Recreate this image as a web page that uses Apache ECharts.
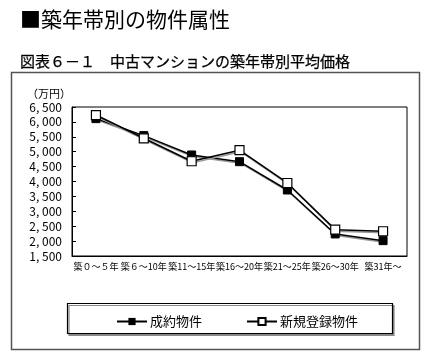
<!DOCTYPE html>
<html><head><meta charset="utf-8">
<script src="https://cdn.jsdelivr.net/npm/echarts@6/dist/echarts.min.js"></script>
<style>html,body{margin:0;padding:0;background:#fff}#c{width:435px;height:357px}</style>
</head><body><div id="c"></div>
<script>
var categories = ['築０～５年','築６～10年','築11～15年','築16～20年','築21～25年','築26～30年','築31年～'];
var contracted = [6110, 5540, 4890, 4665, 3715, 2240, 2015];
var newListings = [6230, 5450, 4680, 5050, 3950, 2385, 2330];
var seriesNames = ['成約物件', '新規登録物件'];
var yMin = 1500, yMax = 6500, yStep = 500;
var F = '"Noto Sans CJK JP", "Noto Sans", sans-serif';

var chart = echarts.init(document.getElementById('c'), null, {renderer: 'canvas'});
chart.setOption({
  backgroundColor: '#fff',
  animation: false,
  textStyle: {fontFamily: F},
  title: [
    {text: '■築年帯別の物件属性', left: 15, top: 4, textStyle: {fontFamily: F, fontSize: 21, fontWeight: 'normal', color: '#000'}},
    {text: '図表６－１　中古マンションの築年帯別平均価格', left: 15, top: 49, textStyle: {fontFamily: F, fontSize: 15, fontWeight: 'normal', color: '#000', textBorderColor: '#000', textBorderWidth: 0.25}}
  ],
  graphic: [
    {type: 'rect', z: -10, shape: {x: 11.5, y: 72.5, width: 408, height: 277}, style: {fill: '#fff', stroke: '#555', lineWidth: 1.5}},
    {type: 'rect', z: -5, shape: {x: 67.5, y: 303.5, width: 325, height: 30}, style: {fill: '#fff', stroke: '#000', lineWidth: 1.2, shadowColor: '#888', shadowOffsetX: 1.5, shadowOffsetY: 2, shadowBlur: 0}},
    {type: 'text', left: 27, top: 88, style: {text: '（万円）', fontFamily: F, fontSize: 11, fill: '#000'}}
  ],
  legend: {
    data: seriesNames,
    left: 111, top: 310,
    itemWidth: 30, itemHeight: 9, itemGap: 44,
    textStyle: {fontFamily: F, fontSize: 13, color: '#000', padding: [0, 0, 0, -2]}
  },
  grid: {left: 72, right: 28, top: 107, bottom: 101, show: true, borderColor: '#000', borderWidth: 1, backgroundColor: '#fff'},
  xAxis: {
    type: 'category', data: categories, boundaryGap: true,
    axisLine: {lineStyle: {color: '#000', width: 1}},
    axisTick: {inside: true, length: 4, lineStyle: {color: '#000'}},
    axisLabel: {interval: 0, margin: 6, fontSize: 9, color: '#000', fontFamily: F}
  },
  yAxis: {
    type: 'value', min: yMin, max: yMax, interval: yStep,
    splitLine: {show: false},
    axisLine: {show: true, lineStyle: {color: '#000'}},
    axisTick: {show: true, inside: true, length: 4, lineStyle: {color: '#000'}},
    axisLabel: {margin: 10, fontSize: 12, color: '#000', fontFamily: F,
      formatter: function (v) { var t = Math.floor(v / 1000), r = v % 1000; return t + ', ' + ('00' + r).slice(-3); }}
  },
  series: [
    {name: seriesNames[0], type: 'line', data: contracted, symbol: 'rect', symbolSize: 8,
      itemStyle: {color: '#000', borderColor: '#000'},
      lineStyle: {color: '#000', width: 1.5, shadowColor: '#999', shadowOffsetX: 1, shadowOffsetY: 1.5}},
    {name: seriesNames[1], type: 'line', data: newListings, symbol: 'rect', symbolSize: 9,
      itemStyle: {color: '#fff', borderColor: '#000', borderWidth: 1.2},
      lineStyle: {color: '#000', width: 1.5, shadowColor: '#999', shadowOffsetX: 1, shadowOffsetY: 1.5}}
  ]
});
</script></body></html>
